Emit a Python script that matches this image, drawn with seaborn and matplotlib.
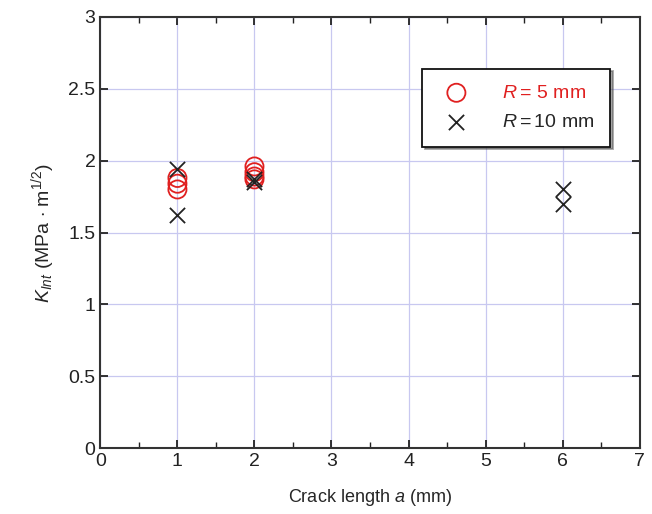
import numpy as np
import pandas as pd
import seaborn as sns
import matplotlib.pyplot as plt
from matplotlib.ticker import MultipleLocator

# data
a_r5 = [1, 1, 1, 2, 2, 2, 2]
k_r5 = [1.88, 1.84, 1.80, 1.96, 1.92, 1.89, 1.87]
a_r10 = [1, 1, 2, 2, 6, 6]
k_r10 = [1.94, 1.62, 1.87, 1.85, 1.80, 1.70]

df5 = pd.DataFrame({'a': a_r5, 'K': k_r5})
df10 = pd.DataFrame({'a': a_r10, 'K': k_r10})

sns.set_style('ticks')
plt.rcParams['font.family'] = ['Liberation Sans', 'DejaVu Sans']
plt.rcParams['mathtext.fontset'] = 'custom'
plt.rcParams['mathtext.it'] = 'Liberation Sans:italic'
plt.rcParams['mathtext.rm'] = 'Liberation Sans'

fig = plt.figure(figsize=(6.52, 5.14), dpi=100)
ax = fig.add_axes([0.154, 0.128, 0.827, 0.839])

sns.scatterplot(data=df5, x='a', y='K', ax=ax, marker='o', s=170,
                facecolor='none', edgecolor='#e02020', linewidth=1.3,
                label='$\\it{R{=}\\,5}$ mm', zorder=3)
sns.scatterplot(data=df10, x='a', y='K', ax=ax, marker='x', s=120,
                color='#222222', linewidth=1.3,
                label='$\\it{R{=}10}$ mm', zorder=4)

ax.set_xlim(0, 7)
ax.set_ylim(0, 3)
ax.xaxis.set_major_locator(MultipleLocator(1))
ax.xaxis.set_minor_locator(MultipleLocator(0.5))
ax.yaxis.set_major_locator(MultipleLocator(0.5))
ax.yaxis.set_major_formatter(plt.FuncFormatter(lambda v, p: f'{v:g}'))
ax.grid(True, which='major', color='#c8c8f0', linewidth=0.9)
ax.set_axisbelow(True)
ax.tick_params(which='both', direction='in', top=True, right=True,
               labelsize=14, colors='#222222')
ax.tick_params(which='major', length=6, width=1.3)
ax.tick_params(which='minor', length=4, width=1.0)
for sp in ax.spines.values():
    sp.set_visible(True)
    sp.set_linewidth(1.5)
    sp.set_color('#333333')

ax.set_xlabel('Crack length $\\it{a}$ (mm)', fontsize=13, labelpad=12)
ax.set_ylabel('$\\it{K}_{\\it{Int}}$ (MPa $\\cdot$ m$^{1/2}$)', fontsize=14, labelpad=8)

leg = ax.legend(loc='upper right', bbox_to_anchor=(0.945, 0.88), frameon=True,
                fancybox=False, shadow=True, fontsize=14, borderpad=0.8,
                handletextpad=1.4, labelspacing=0.6, borderaxespad=0,
                handlelength=1.9)
leg.get_frame().set_edgecolor('#111111')
leg.get_frame().set_linewidth(1.3)
leg.get_texts()[0].set_color('#e02020')

fig.savefig('out.png', dpi=100)
